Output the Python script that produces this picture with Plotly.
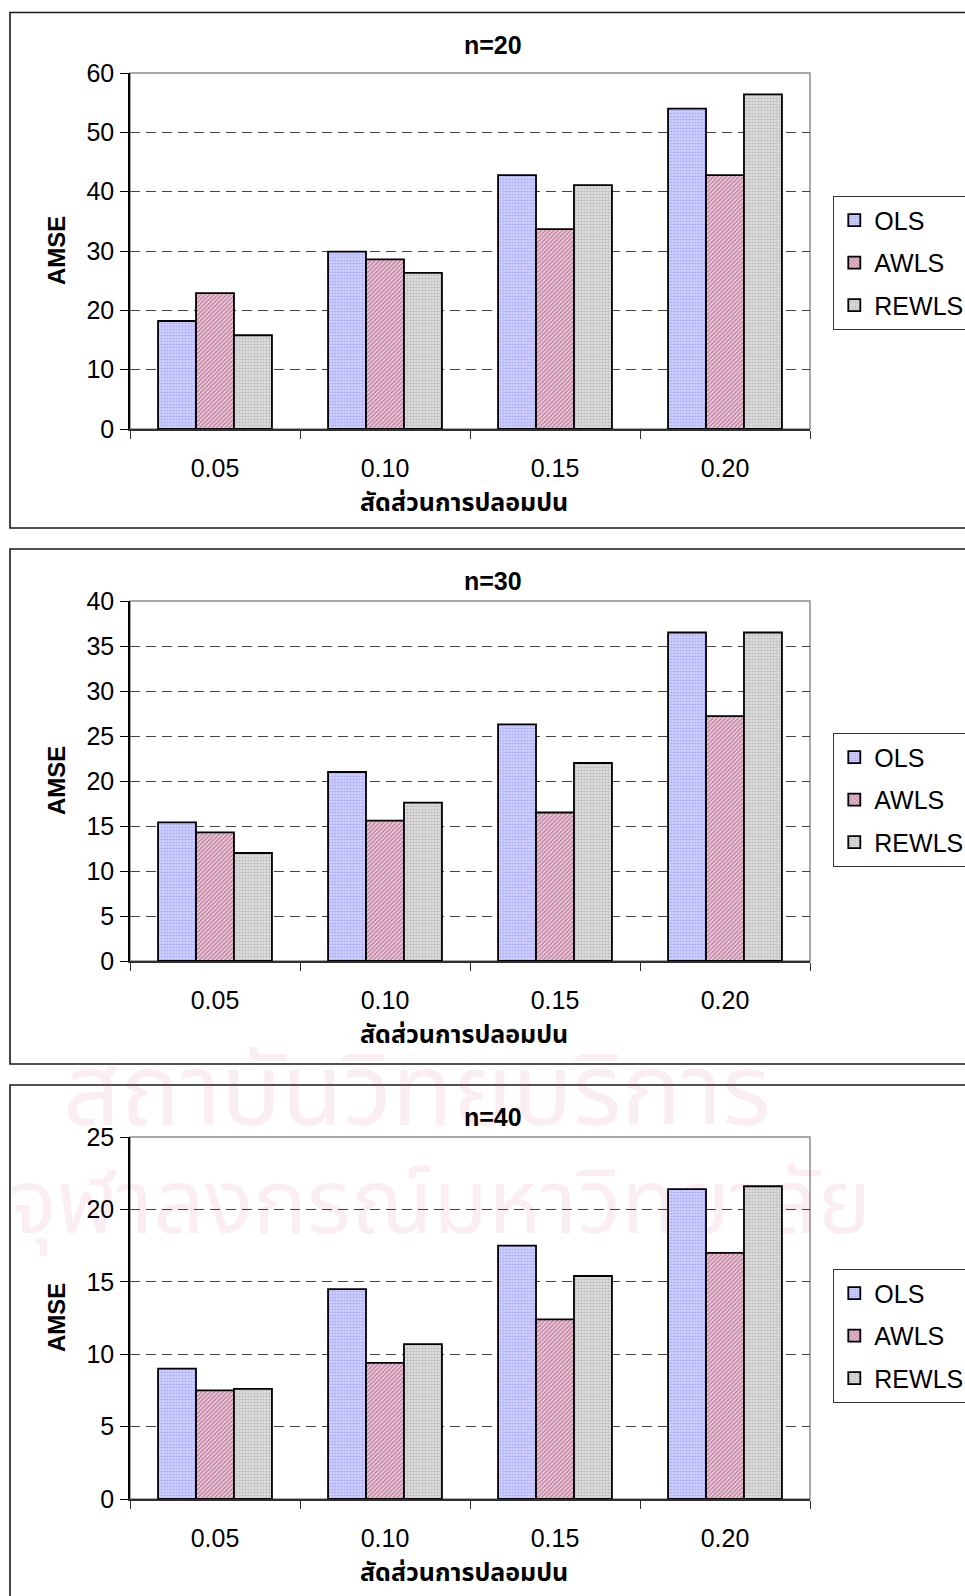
import plotly.graph_objects as go

# Contamination proportions (x categories) and AMSE per estimator for each sample size
categories = ["0.05", "0.10", "0.15", "0.20"]
series_names = ["OLS", "AWLS", "REWLS"]

n20_ols = [18.2, 29.9, 42.8, 54.0]
n20_awls = [22.9, 28.6, 33.7, 42.8]
n20_rewls = [15.8, 26.3, 41.1, 56.4]

n30_ols = [15.4, 21.0, 26.3, 36.5]
n30_awls = [14.3, 15.6, 16.5, 27.2]
n30_rewls = [12.0, 17.6, 22.0, 36.5]

n40_ols = [9.0, 14.5, 17.5, 21.4]
n40_awls = [7.5, 9.4, 12.4, 17.0]
n40_rewls = [7.6, 10.7, 15.4, 21.6]

panel_titles = ["n=20", "n=30", "n=40"]
y_ranges = [[0, 60], [0, 40], [0, 25]]
y_dticks = [10, 5, 5]
x_title = "สัดส่วนการปลอมปน"
y_title = "AMSE"
watermark_lines = ["สถาบันวิทยบริการ", "จุฬาลงกรณ์มหาวิทยาลัย"]

W, H = 965, 1596
FONT = "Arial, Liberation Sans, sans-serif"
THAI_FONT = "Tahoma, Noto Sans Thai, Loma, Garuda, Arial, sans-serif"


def px_x(v):
    return v / W


def px_y(v):
    return 1 - v / H


# pixel geometry of each panel: (box_top, box_bottom, plot_top, plot_bottom, legend_top)
panels = [
    (12.5, 528, 73, 429, 196),
    (549, 1064, 601, 961, 733),
    (1085, 1605, 1137, 1499, 1269),
]
plot_left, plot_right = 130, 810

styles = [
    dict(shape=".", fgcolor="#8585FA", bgcolor="#DEDEFF", size=3, solidity=0.65),
    dict(shape="/", fgcolor="#993366", bgcolor="#F2DCE6", size=3, solidity=0.6),
    dict(shape=".", fgcolor="#9A9A9A", bgcolor="#E6E6E6", size=3, solidity=0.55),
]

data_sets = [
    [n20_ols, n20_awls, n20_rewls],
    [n30_ols, n30_awls, n30_rewls],
    [n40_ols, n40_awls, n40_rewls],
]

fig = go.Figure()
shapes = []
annotations = []

# faint background watermark on a full-page pixel subplot that sits beneath the panels
fig.add_trace(go.Scatter(
    x=[417, 440], y=[1100, 1210], text=watermark_lines, mode="text",
    textfont=dict(family=THAI_FONT, size=[100, 90], color="rgba(215,70,120,0.09)"),
    xaxis="x", yaxis="y", showlegend=False, hoverinfo="skip",
))
fig.update_layout(
    xaxis=dict(domain=[0, 1], range=[0, W], visible=False, fixedrange=True),
    yaxis=dict(domain=[0, 1], range=[H, 0], visible=False, fixedrange=True),
)

for i, (vals, (bt, bb, pt, pb, lt)) in enumerate(zip(data_sets, panels)):
    k = str(i + 2)
    legend_name = "legend" if i == 0 else "legend" + str(i + 1)
    for j, (name, v, st) in enumerate(zip(series_names, vals, styles)):
        fig.add_trace(go.Bar(
            x=categories, y=v, name=name,
            xaxis="x" + k, yaxis="y" + k,
            legend=legend_name, legendgroup=f"{legend_name}_{j}",
            marker=dict(color=st["bgcolor"], pattern=st,
                        line=dict(color="#000000", width=1.8)),
        ))

    fig.update_layout(**{
        "xaxis" + k: dict(
            domain=[px_x(plot_left), px_x(plot_right)],
            anchor="y" + k, type="category", automargin=False,
            showline=True, linecolor="#303030", linewidth=1.6,
            ticks="outside", ticklen=8, tickcolor="#303030", tickwidth=1.3,
            tickson="boundaries", ticklabelstandoff=16,
            tickfont=dict(family=FONT, size=25, color="#000000"),
            showgrid=False, zeroline=False, fixedrange=True,
        ),
        "yaxis" + k: dict(
            domain=[px_y(pb), px_y(pt)],
            anchor="x" + k, range=y_ranges[i], dtick=y_dticks[i], automargin=False,
            showline=True, linecolor="#000000", linewidth=1.5,
            ticks="outside", ticklen=8, tickcolor="#000000", tickwidth=1.3,
            ticklabelstandoff=1,
            tickfont=dict(family=FONT, size=25, color="#000000"),
            showgrid=True, gridcolor="#444444", gridwidth=1.3,
            griddash="10px,6px", zeroline=False, fixedrange=True,
        ),
        legend_name: dict(
            x=px_x(833), y=px_y(lt), xanchor="left", yanchor="top",
            bgcolor="#FFFFFF", bordercolor="#333333", borderwidth=1.3,
            font=dict(family=FONT, size=25, color="#000000"),
            tracegroupgap=7, itemwidth=30,
        ),
    })

    # outer chart frame
    shapes.append(dict(type="rect", xref="paper", yref="paper",
                       x0=px_x(10), x1=px_x(975), y0=px_y(bb), y1=px_y(bt),
                       line=dict(color="#1A1A1A", width=1.6), layer="below"))
    # plot-area border (top and right edges in gray)
    shapes.append(dict(type="rect", xref="x" + k + " domain", yref="y" + k + " domain",
                       x0=0, x1=1, y0=0, y1=1,
                       line=dict(color="#8C8C8C", width=1.5), layer="below"))

    annotations.append(dict(text="<b>" + panel_titles[i] + "</b>", xref="paper", yref="paper",
                            x=px_x(493), y=px_y(bt + 32), xanchor="center", yanchor="middle",
                            showarrow=False, font=dict(family=FONT, size=25, color="#000000")))
    annotations.append(dict(text="<b>" + y_title + "</b>", xref="paper", yref="paper",
                            x=px_x(56), y=px_y((pt + pb) / 2), xanchor="center", yanchor="middle",
                            textangle=-90, showarrow=False,
                            font=dict(family=FONT, size=24, color="#000000")))
    annotations.append(dict(text="<b>" + x_title + "</b>", xref="paper", yref="paper",
                            x=px_x(464), y=px_y(pb + 74), xanchor="center", yanchor="middle",
                            showarrow=False, font=dict(family=THAI_FONT, size=25, color="#000000")))

fig.update_layout(
    width=W, height=H, autosize=False,
    margin=dict(l=0, r=0, t=0, b=0, autoexpand=False),
    paper_bgcolor="#FFFFFF", plot_bgcolor="rgba(0,0,0,0)",
    barmode="group", bargap=0.33, bargroupgap=0,
    showlegend=True,
    shapes=shapes, annotations=annotations,
)

fig.write_html("out.html")
